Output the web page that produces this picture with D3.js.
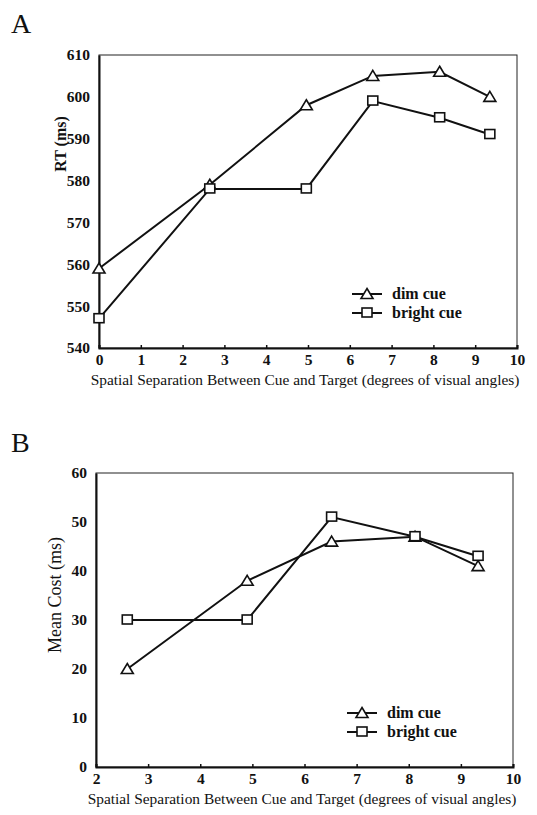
<!DOCTYPE html>
<html>
<head>
  <meta charset="UTF-8">
  <title>cue separation</title>
  <style>
    body { margin: 0; background: #fff; }
    svg text { font-family: "Liberation Serif", "Times New Roman", serif; fill: #111; }
  </style>
</head>
<body>
  <div class="svg-zone"></div>
  <script src="https://cdn.jsdelivr.net/npm/d3@7"></script>
  <script type="text/javascript">
  // panel A: RT
  let sepA = [0, 2.65, 4.96, 6.55, 8.15, 9.35];
  let dimA = [559, 579, 598, 605, 606, 600];
  let brightA = [547, 578, 578, 599, 595, 591];
  let xTicksA = [0, 1, 2, 3, 4, 5, 6, 7, 8, 9, 10];
  let yTicksA = [540, 550, 560, 570, 580, 590, 600, 610];

  // panel B: mean cost
  let sepB = [2.6, 4.9, 6.52, 8.12, 9.33];
  let dimB = [20, 38, 46, 47, 41];
  let brightB = [30, 30, 51, 47, 43];
  let xTicksB = [2, 3, 4, 5, 6, 7, 8, 9, 10];
  let yTicksB = [0, 10, 20, 30, 40, 50, 60];

  let seriesNames = ["dim cue", "bright cue"];
  let xTitle = "Spatial Separation Between Cue and Target (degrees of visual angles)";

  var width = 537, height = 815;
  var svg = d3.select(".svg-zone").append("svg")
    .attr("width", width)
    .attr("height", height);

  function marker(g, kind, cx, cy) {
    if (kind == 0) {
      g.append("path")
        .attr("d", "M" + cx + "," + (cy - 5.5) + "L" + (cx + 6) + "," + (cy + 4.5) + "L" + (cx - 6) + "," + (cy + 4.5) + "Z")
        .attr("fill", "#fff").attr("stroke", "#111").attr("stroke-width", 1.6);
    } else {
      g.append("rect")
        .attr("x", cx - 5).attr("y", cy - 5).attr("width", 10).attr("height", 9)
        .attr("fill", "#fff").attr("stroke", "#111").attr("stroke-width", 1.6);
    }
  }

  function panel(opt) {
    var x = d3.scaleLinear().domain(opt.xDomain).range([opt.left, opt.right]);
    var y = d3.scaleLinear().domain(opt.yDomain).range([opt.bottom, opt.top]);
    var g = svg.append("g");

    // panel letter
    g.append("text").attr("x", 11).attr("y", opt.letterY)
      .style("font-size", "28px").text(opt.letter);

    // frame
    g.append("rect")
      .attr("x", opt.left).attr("y", opt.top)
      .attr("width", opt.right - opt.left).attr("height", opt.bottom - opt.top)
      .attr("fill", "none").attr("stroke", "#222").attr("stroke-width", 1);

    // axes
    var xAxis = d3.axisBottom(x).tickValues(opt.xTicks).tickSize(-3).tickPadding(6).tickFormat(d3.format("d"));
    var yAxis = d3.axisLeft(y).tickValues(opt.yTicks).tickSize(0).tickPadding(9).tickFormat(d3.format("d"));
    var gx = g.append("g").attr("transform", "translate(0," + opt.bottom + ")").call(xAxis);
    var gy = g.append("g").attr("transform", "translate(" + opt.left + ",0)").call(yAxis);
    [gx, gy].forEach(function (a) {
      a.attr("font-family", null);
      a.select(".domain").attr("stroke", "#111").attr("stroke-width", 2);
      a.selectAll(".tick line").attr("stroke", "#111").attr("stroke-width", 1.5);
      a.selectAll("text").style("font-size", "15.5px").style("font-weight", "bold")
        .style("font-family", "'Liberation Serif', serif").attr("fill", "#111");
    });

    // axis titles
    g.append("text").attr("x", opt.xTitleX).attr("y", opt.bottom + 37)
      .attr("text-anchor", "middle").style("font-size", "15.4px").text(xTitle);
    g.append("text")
      .attr("transform", "translate(" + opt.yTitleX + "," + opt.yTitleY + ") rotate(-90)")
      .attr("text-anchor", "middle").style("font-size", opt.yTitleSize).style("font-weight", opt.yTitleWeight)
      .text(opt.yTitle);

    // lines + markers
    var line = d3.line().x(function (d) { return x(d[0]); }).y(function (d) { return y(d[1]); });
    [opt.dim, opt.bright].forEach(function (vals, k) {
      var pts = opt.sep.map(function (s, i) { return [s, vals[i]]; });
      g.append("path").datum(pts).attr("d", line)
        .attr("fill", "none").attr("stroke", "#111").attr("stroke-width", 2);
    });
    [opt.dim, opt.bright].forEach(function (vals, k) {
      opt.sep.forEach(function (s, i) { marker(g, k, x(s), y(vals[i])); });
    });

    // legend
    seriesNames.forEach(function (name, k) {
      var ly = opt.legY + k * 19;
      g.append("line").attr("x1", opt.legX).attr("x2", opt.legX + 30)
        .attr("y1", ly).attr("y2", ly).attr("stroke", "#111").attr("stroke-width", 2);
      marker(g, k, opt.legX + 15, ly);
      g.append("text").attr("x", opt.legX + 40).attr("y", ly + 5)
        .style("font-size", "16px").style("font-weight", "bold").text(name);
    });
  }

  panel({
    letter: "A", letterY: 33,
    left: 99, right: 517, top: 55, bottom: 348,
    xDomain: [0, 10], yDomain: [540, 610],
    xTicks: xTicksA, yTicks: yTicksA,
    sep: sepA, dim: dimA, bright: brightA,
    xTitleX: 305,
    yTitle: "RT (ms)", yTitleX: 66, yTitleY: 144, yTitleSize: "16px", yTitleWeight: "bold",
    legX: 352, legY: 294
  });

  panel({
    letter: "B", letterY: 452,
    left: 96, right: 513, top: 473, bottom: 767,
    xDomain: [2, 10], yDomain: [0, 60],
    xTicks: xTicksB, yTicks: yTicksB,
    sep: sepB, dim: dimB, bright: brightB,
    xTitleX: 302,
    yTitle: "Mean Cost (ms)", yTitleX: 61, yTitleY: 595, yTitleSize: "18px", yTitleWeight: "normal",
    legX: 347, legY: 713
  });
  </script>
</body>
</html>
